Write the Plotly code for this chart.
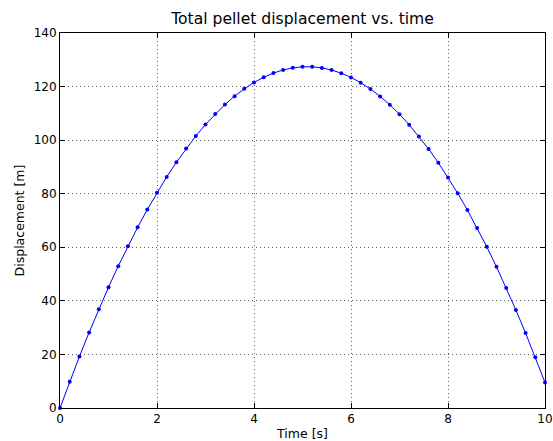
import plotly.graph_objects as go

time_s = [0.0, 0.2, 0.4, 0.6, 0.8, 1.0, 1.2, 1.4, 1.6, 1.8, 2.0, 2.2, 2.4, 2.6, 2.8,
          3.0, 3.2, 3.4, 3.6, 3.8, 4.0, 4.2, 4.4, 4.6, 4.8, 5.0, 5.2, 5.4, 5.6, 5.8,
          6.0, 6.2, 6.4, 6.6, 6.8, 7.0, 7.2, 7.4, 7.6, 7.8, 8.0, 8.2, 8.4, 8.6, 8.8,
          9.0, 9.2, 9.4, 9.6, 9.8, 10.0]
displacement_m = [0.0, 9.80, 19.22, 28.23, 36.86, 45.10, 52.94, 60.39, 67.44, 74.11,
                  80.38, 86.26, 91.75, 96.84, 101.54, 105.86, 109.77, 113.30, 116.43,
                  119.17, 121.52, 123.48, 125.04, 126.21, 126.99, 127.38, 127.37,
                  126.97, 126.18, 125.00, 123.42, 121.45, 119.09, 116.34, 113.19,
                  109.66, 105.72, 101.40, 96.69, 91.58, 86.08, 80.19, 73.90, 67.23,
                  60.16, 52.70, 44.84, 36.59, 27.96, 18.92, 9.50]
x_ticks = [0, 2, 4, 6, 8, 10]
y_ticks = [0, 20, 40, 60, 80, 100, 120, 140]

W, H = 553, 441

fig = go.Figure()
fig.add_trace(go.Scatter(
    x=time_s, y=displacement_m, mode="lines+markers",
    line=dict(color="#0000ff", width=1),
    marker=dict(color="#0000ff", size=4),
    showlegend=False, cliponaxis=False,
))

axis_common = dict(
    showline=True, linecolor="black", linewidth=1, mirror="ticks",
    ticks="inside", ticklen=5, tickcolor="black", tickwidth=1,
    showgrid=True, gridcolor="rgba(0,0,0,0.6)", gridwidth=1, griddash="1px,3px",
    zeroline=False, automargin=False, ticklabeloverflow="allow",
    tickfont=dict(family="DejaVu Sans", size=12, color="black"),
)

fig.update_xaxes(range=[0, 10], tickvals=x_ticks,
                 title=dict(text="Time [s]", font=dict(family="DejaVu Sans", size=12.5, color="black"), standoff=4),
                 **axis_common)
fig.update_yaxes(range=[0, 140], tickvals=y_ticks,
                 title=dict(text="Displacement [m]", font=dict(family="DejaVu Sans", size=12.5, color="black"), standoff=6),
                 **axis_common)

fig.update_layout(
    width=W, height=H,
    margin=dict(l=60, r=8, t=33, b=33, pad=0),
    paper_bgcolor="white", plot_bgcolor="white",
    title=dict(text="Total pellet displacement vs. time", x=0.5, xanchor="center",
               xref="paper",
               y=1 - 19 / H, yanchor="middle",
               font=dict(family="DejaVu Sans", size=15.6, color="black")),
)

fig.write_html(
    "out.html",
    config={"displayModeBar": False},
    post_script="document.body.style.margin='0';document.body.style.overflow='hidden';",
)
